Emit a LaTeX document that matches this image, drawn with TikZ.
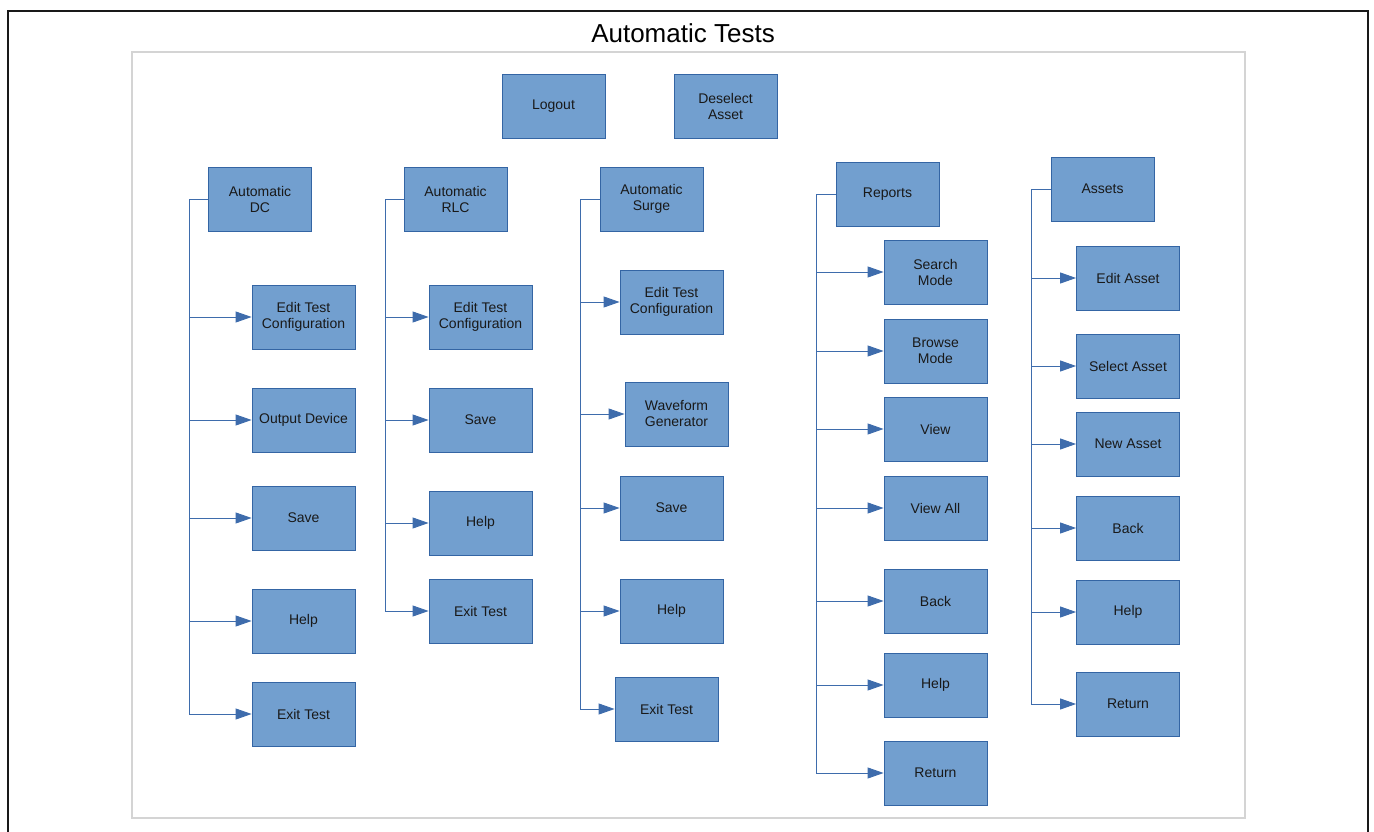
\documentclass[tikz,border=0pt]{standalone}
\usepackage{fontspec}
\setmainfont{Liberation Sans}
\usetikzlibrary{arrows.meta,positioning}
\definecolor{boxFill}{RGB}{114,159,207}
\definecolor{boxEdge}{RGB}{52,101,164}
\definecolor{linkBlue}{RGB}{62,108,172}
\definecolor{frameGray}{RGB}{212,212,212}
\begin{document}
\begin{tikzpicture}[x=1pt,y=-1pt,
  box/.style={rectangle,draw=boxEdge,fill=boxFill,line width=0.8pt,
              minimum width=103pt,minimum height=64pt,inner sep=0pt,align=center,
              font=\fontsize{14}{16}\selectfont,text=black!90},
  arr/.style={-{Triangle[length=16pt,width=11pt]},draw=linkBlue,line width=0.9pt}
]
  \useasboundingbox (0,0) rectangle (1374,832);
  \draw[line width=2.5pt,black!90](8,11) rectangle (1368,850);
  \draw[line width=1.5pt,frameGray](132,52) rectangle (1245,818);
  \node[font=\fontsize{26}{30}\selectfont](title) at (683,33){Automatic Tests};

  \node[box](lo) at (553.5,106){Logout};
  \node[box](da) at (725.5,106){Deselect\\Asset};

  \node[box](dc)  at (260,199)  {Automatic\\DC};
  \node[box](dc1) at (303.5,317){Edit Test\\Configuration};
  \node[box](dc2) at (303.5,420){Output Device};
  \node[box](dc3) at (303.5,518){Save};
  \node[box](dc4) at (303.5,621){Help};
  \node[box](dc5) at (303.5,714){Exit Test};

  \node[box](rl)  at (455.5,199){Automatic\\RLC};
  \node[box](rl1) at (480.5,317){Edit Test\\Configuration};
  \node[box](rl2) at (480.5,420){Save};
  \node[box](rl3) at (480.5,523){Help};
  \node[box](rl4) at (480.5,611){Exit Test};

  \node[box](su)  at (651.5,199){Automatic\\Surge};
  \node[box](su1) at (671.5,302){Edit Test\\Configuration};
  \node[box](su2) at (676.5,414){Waveform\\Generator};
  \node[box](su3) at (671.5,508){Save};
  \node[box](su4) at (671.5,611){Help};
  \node[box](su5) at (666.5,709){Exit Test};

  \node[box](rp)  at (887.5,194){Reports};
  \node[box](rp1) at (935.5,272){Search\\Mode};
  \node[box](rp2) at (935.5,351){Browse\\Mode};
  \node[box](rp3) at (935.5,429){View};
  \node[box](rp4) at (935.5,508){View All};
  \node[box](rp5) at (935.5,601){Back};
  \node[box](rp6) at (935.5,685){Help};
  \node[box](rp7) at (935.5,773){Return};

  \node[box](as)  at (1102.5,189){Assets};
  \node[box](as1) at (1128,278){Edit Asset};
  \node[box](as2) at (1128,366){Select Asset};
  \node[box](as3) at (1128,444){New Asset};
  \node[box](as4) at (1128,528){Back};
  \node[box](as5) at (1128,612){Help};
  \node[box](as6) at (1128,704){Return};

  \foreach \c in {dc1,dc2,dc3,dc4,dc5}{\draw[arr](dc.west)--++(-19,0)|-(\c);}
  \foreach \c in {rl1,rl2,rl3,rl4}{\draw[arr](rl.west)--++(-18,0)|-(\c);}
  \foreach \c in {su1,su2,su3,su4,su5}{\draw[arr](su.west)--++(-19,0)|-(\c);}
  \foreach \c in {rp1,rp2,rp3,rp4,rp5,rp6,rp7}{\draw[arr](rp.west)--++(-19,0)|-(\c);}
  \foreach \c in {as1,as2,as3,as4,as5,as6}{\draw[arr](as.west)--++(-19,0)|-(\c);}
\end{tikzpicture}
\end{document}
